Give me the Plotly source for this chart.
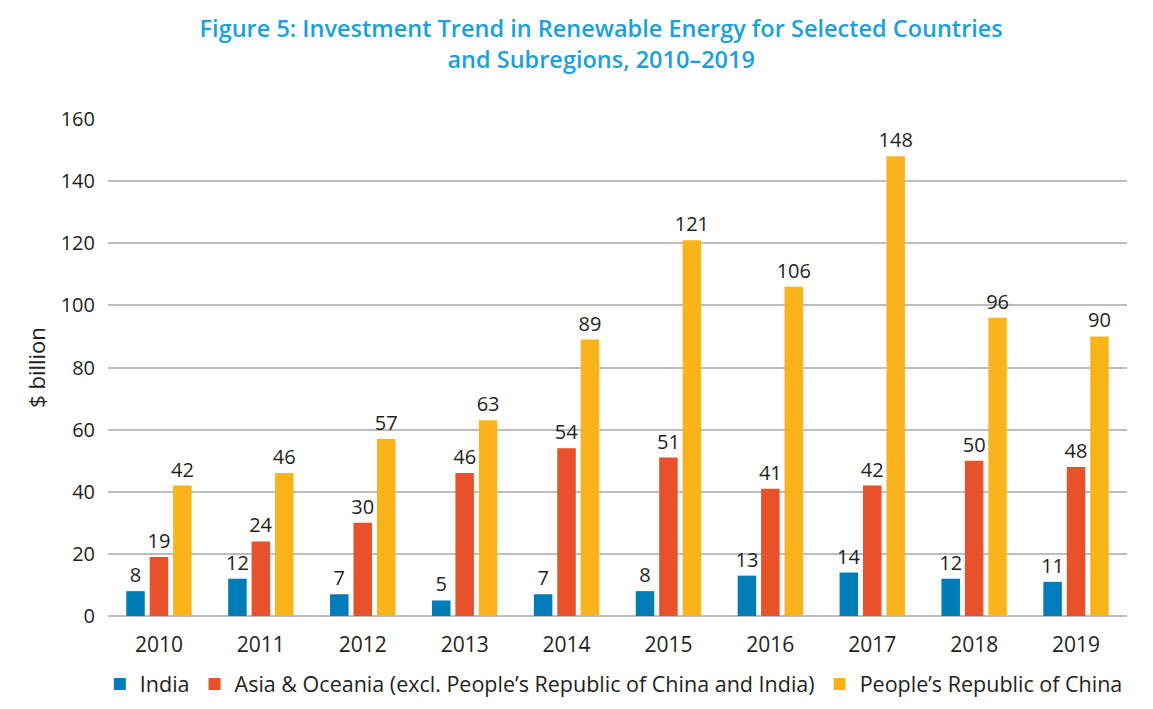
import plotly.graph_objects as go

years = ["2010", "2011", "2012", "2013", "2014", "2015", "2016", "2017", "2018", "2019"]
india = [8, 12, 7, 5, 7, 8, 13, 14, 12, 11]
asia_oceania = [19, 24, 30, 46, 54, 51, 41, 42, 50, 48]
prc = [42, 46, 57, 63, 89, 121, 106, 148, 96, 90]

series_names = [
    "India",
    "Asia & Oceania (excl. People\u2019s Republic of China and India)",
    "People\u2019s Republic of China",
]
series_values = [india, asia_oceania, prc]
colors = ["#007DB8", "#E9512B", "#FAB31A"]

y_ticks = [0, 20, 40, 60, 80, 100, 120, 140, 160]

FONT = "Open Sans"
TXT = "#231F20"

fig = go.Figure()
for name, vals, col in zip(series_names, series_values, colors):
    fig.add_trace(go.Bar(
        x=years, y=vals, name=name,
        marker=dict(color=col, line=dict(width=0)),
        text=[str(v) for v in vals],
        textposition="outside",
        constraintext="none",
        textfont=dict(family=FONT, size=20, color=TXT),
        cliponaxis=False,
    ))

fig.update_layout(
    width=1153, height=709,
    paper_bgcolor="white", plot_bgcolor="white",
    barmode="group", bargap=0.31, bargroupgap=0.21,
    margin=dict(l=100, r=34, t=111, b=101, autoexpand=False),
    title=dict(
        text="Figure 5: Investment Trend in Renewable Energy for Selected Countries<br>and Subregions, 2010\u20132019",
        x=0.484, xref="paper", xanchor="center",
        y=1 - 29 / 709, yref="container", yanchor="middle",
        font=dict(family=FONT, size=23.5, color="#1AA1DB", weight=600),
    ),
    font=dict(family=FONT, color=TXT),
    showlegend=True,
    legend=dict(
        orientation="h", x=-0.008, xanchor="left", y=-0.137, yanchor="middle",
        font=dict(family=FONT, size=21.5, color=TXT),
        bgcolor="rgba(0,0,0,0)", itemclick=False,
        traceorder="normal",
    ),
)
fig.update_xaxes(
    type="category", showgrid=False, showline=False, ticks="",
    tickfont=dict(family=FONT, size=21, color=TXT),
    ticklabelstandoff=14,
)
fig.update_yaxes(
    range=[0, 160], tickvals=y_ticks, showgrid=True,
    gridcolor="#BDBDBD", gridwidth=1.5,
    zeroline=True, zerolinecolor="#BDBDBD", zerolinewidth=1.5,
    showline=False, ticks="",
    tickfont=dict(family=FONT, size=20, color=TXT),
    ticklabelstandoff=12,
    title=dict(text="$ billion", font=dict(family=FONT, size=22, color=TXT), standoff=8),
)

fig.write_html("out.html")
